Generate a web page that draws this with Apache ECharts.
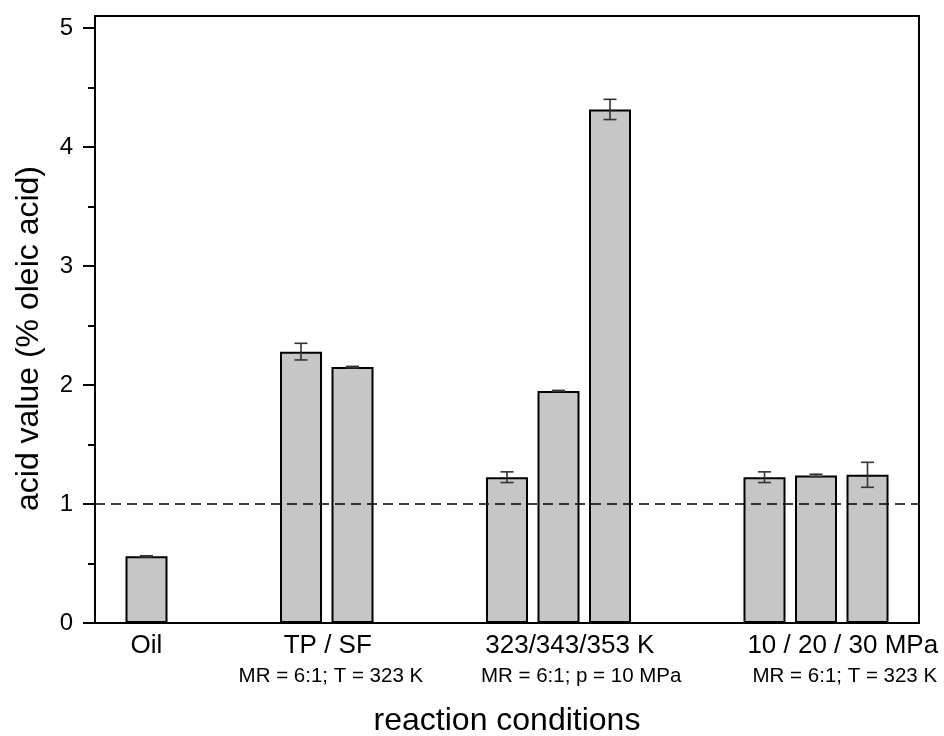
<!DOCTYPE html>
<html>
<head>
<meta charset="utf-8">
<script src="https://cdn.jsdelivr.net/npm/echarts@6/dist/echarts.min.js"></script>
<style>
  html, body { margin: 0; padding: 0; background: #ffffff; }
  #chart { width: 944px; height: 736px; }
</style>
</head>
<body>
<div id="chart"></div>
<script>
// ---- data ----
const conditions = ['Oil', 'TP', 'SF', '323 K', '343 K', '353 K', '10 MPa', '20 MPa', '30 MPa'];
const conditionGroup = [0, 1, 1, 2, 2, 2, 3, 3, 3];
const acidValue = [0.56, 2.28, 2.15, 1.225, 1.95, 4.315, 1.225, 1.24, 1.245];
const acidError = [0.005, 0.07, 0.006, 0.045, 0.004, 0.085, 0.045, 0.01, 0.105];
const groupLabels = ['Oil', 'TP / SF', '323/343/353 K', '10 / 20 / 30 MPa'];
const groupNotes = ['', 'MR = 6:1; T = 323 K', 'MR = 6:1; p = 10 MPa', 'MR = 6:1; T = 323 K'];
const yTickLabels = [0, 1, 2, 3, 4, 5];
const yMinorTicks = [0.5, 1.5, 2.5, 3.5, 4.5];
const referenceLine = 1;

// ---- slot positions on the x value axis (one slot per bar, two empty slots between groups) ----
const slot = [];
{
  let s = 1;
  for (let i = 0; i < conditions.length; i++) {
    if (i > 0 && conditionGroup[i] !== conditionGroup[i - 1]) s += 2;
    slot.push(s);
    s += 1;
  }
}
const xMax = slot[slot.length - 1] + 1;

// label anchor positions (layout, in axis units)
const labelAt = [1, 4.52, 9.22, 14.52];
const noteAt = [4.58, 9.44, 14.56];
const noteText = groupNotes.slice(1);

const barData = acidValue.map((v, i) => [slot[i], v]);
const errData = acidValue.map((v, i) => [slot[i], v - acidError[i], v + acidError[i]]);

const font = '"Liberation Sans", Arial, sans-serif';
const chart = echarts.init(document.getElementById('chart'), null, { renderer: 'canvas' });

function findIdx(arr, v) {
  for (let i = 0; i < arr.length; i++) if (Math.abs(arr[i] - v) < 1e-6) return i;
  return -1;
}

chart.setOption({
  animation: false,
  backgroundColor: '#ffffff',
  grid: {
    left: 95, right: 25, top: 16, bottom: 113,
    show: true, borderColor: '#000', borderWidth: 2, backgroundColor: 'transparent',
    outerBoundsMode: 'none', containLabel: false
  },
  xAxis: [
    {
      type: 'value', min: 0, max: xMax,
      name: 'reaction conditions', nameLocation: 'middle', nameGap: 82,
      nameTextStyle: { fontFamily: font, fontSize: 32, color: '#000' },
      axisLine: { show: true, onZero: false, lineStyle: { color: '#000', width: 2 } },
      axisTick: { show: false },
      splitLine: { show: false },
      axisLabel: {
        customValues: labelAt,
        margin: 10,
        fontFamily: font, fontSize: 26, color: '#000',
        formatter: (v) => { const i = findIdx(labelAt, v); return i >= 0 ? groupLabels[i] : ''; }
      }
    },
    {
      type: 'value', min: 0, max: xMax, position: 'bottom',
      axisLine: { show: false },
      axisTick: { show: false },
      splitLine: { show: false },
      axisLabel: {
        customValues: noteAt,
        margin: 43,
        fontFamily: font, fontSize: 20.5, color: '#000',
        formatter: (v) => { const i = findIdx(noteAt, v); return i >= 0 ? noteText[i] : ''; }
      }
    }
  ],
  yAxis: [
    {
      type: 'value', min: 0, max: 5.1,
      name: 'acid value (% oleic acid)', nameLocation: 'middle', nameGap: 50, nameRotate: 90,
      nameTextStyle: { fontFamily: font, fontSize: 32, color: '#000', padding: [0, 38, 0, 0] },
      axisLine: { show: true, lineStyle: { color: '#000', width: 2 } },
      axisTick: { show: true, customValues: yTickLabels, length: 12, lineStyle: { color: '#000', width: 2 } },
      splitLine: { show: false },
      axisLabel: {
        customValues: yTickLabels, margin: 22,
        fontFamily: font, fontSize: 24, color: '#000',
        formatter: (v) => String(v)
      }
    },
    {
      type: 'value', min: 0, max: 5.1, position: 'left',
      axisLine: { show: false },
      axisTick: { show: true, customValues: yMinorTicks, length: 7, lineStyle: { color: '#000', width: 2 } },
      axisLabel: { show: false },
      splitLine: { show: false }
    }
  ],
  series: [
    {
      type: 'line', data: [], xAxisIndex: 0, yAxisIndex: 0, z: 1, silent: true,
      markLine: {
        silent: true, symbol: 'none', animation: false,
        label: { show: false },
        lineStyle: { color: '#000', width: 1.6, type: [10, 6] },
        data: [{ yAxis: referenceLine }]
      }
    },
    {
      type: 'bar', data: barData, xAxisIndex: 0, yAxisIndex: 0, z: 2,
      barWidth: 42,
      itemStyle: { color: '#c6c6c6', borderColor: '#000', borderWidth: 2 }
    },
    {
      type: 'custom', data: errData, xAxisIndex: 0, yAxisIndex: 0, z: 3,
      renderItem: (params, api) => {
        const x = api.value(0);
        const lo = api.coord([x, api.value(1)]);
        const hi = api.coord([x, api.value(2)]);
        const hw = 6.5;
        const style = { stroke: '#333', lineWidth: 1.6 };
        return {
          type: 'group',
          children: [
            { type: 'line', shape: { x1: lo[0], y1: lo[1], x2: hi[0], y2: hi[1] }, style },
            { type: 'line', shape: { x1: hi[0] - hw, y1: hi[1], x2: hi[0] + hw, y2: hi[1] }, style },
            { type: 'line', shape: { x1: lo[0] - hw, y1: lo[1], x2: lo[0] + hw, y2: lo[1] }, style }
          ]
        };
      }
    }
  ]
});
</script>
</body>
</html>
